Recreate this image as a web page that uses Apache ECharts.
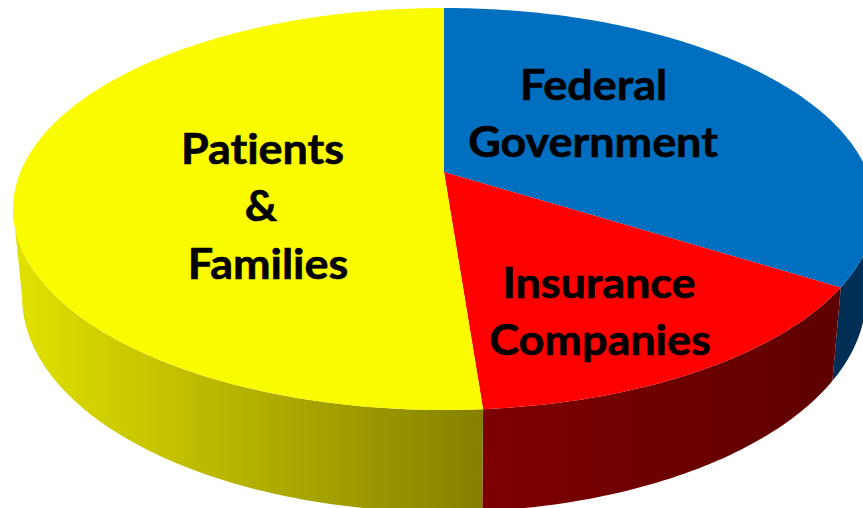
<!DOCTYPE html>
<html>
<head>
<meta charset="utf-8">
<style>
html,body{margin:0;padding:0;background:#fff}
#main{width:863px;height:508px}
#main text{font-variant-ligatures:none !important}
</style>
<script src="https://cdn.jsdelivr.net/npm/echarts@6/dist/echarts.min.js"></script>
</head>
<body>
<div id="main"></div>
<script>
// shares, clockwise from 12 o'clock
var categories=['Federal Government','Insurance Companies','Patients & Families'];
var shares=[34,14.8,51.2];
var topColors=['#006FBF','#FF0000','#FBFB00'];
var wallColors=[
	['#002E55','#002E55'],
	['#7E0000','#5E0000'],
	['#E2E200','#858000']
];

// perspective of the disc: k is the foreshortening, top = upper face, bottom = lower edge
var k=0.184;
var topFace={cx:444,cy:172,a:423.6,b:194.2};
var bottomFace={cx:444,cy:257.4,a:414.7,b:207.7};

function project(face,theta){
	var u=Math.sin(theta),v=Math.cos(theta),w=1+k*v;
	return [face.cx+face.a*u/w,face.cy-face.b*v/w];
}

function arc(face,from,to){
	var pts=[];
	var n=Math.max(2,Math.ceil(Math.abs(to-from)*60));
	for(var i=0;i<=n;i++){
		pts.push(project(face,from+(to-from)*i/n));
	}
	return pts;
}

// the wall only shows between the two points where the outline turns back
var wallFrom=Math.acos(-k);
var wallTo=2*Math.PI-wallFrom;

function renderSlice(params,api){
	var total=shares.reduce(function(s,d){return s+d;},0);
	var before=0;
	for(var i=0;i<params.dataIndex;i++){before+=shares[i];}
	var start=before/total*2*Math.PI;
	var end=start+api.value(0)/total*2*Math.PI;
	var children=[];

	var a=Math.max(start,wallFrom),b=Math.min(end,wallTo);
	if(b>a){
		var wall=arc(topFace,a,b).concat(arc(bottomFace,b,a));
		var xs=wall.map(function(p){return p[0];});
		var c=wallColors[params.dataIndex];
		children.push({
			type:'polygon',
			shape:{points:wall},
			style:{
				fill:new echarts.graphic.LinearGradient(Math.min.apply(null,xs),0,Math.max.apply(null,xs),0,[
					{offset:0,color:c[0]},{offset:1,color:c[1]}
				],true)
			}
		});
	}

	var face=[[topFace.cx,topFace.cy]].concat(arc(topFace,start,end));
	children.push({
		type:'polygon',
		shape:{points:face},
		style:{fill:topColors[params.dataIndex]}
	});
	return {type:'group',children:children};
}

// Lato is narrower than the original face, so it gets stretched a little
function label(text,x,y){
	return {
		type:'text',
		x:x,
		y:y,
		z:10,
		scaleX:1.095,
		style:{
			text:text,
			font:'bold 41px Lato',
			fill:'#000',
			stroke:'#000',
			lineWidth:0.6,
			align:'center',
			verticalAlign:'middle'
		}
	};
}

var chart=echarts.init(document.getElementById('main'),null,{renderer:'svg'});
chart.setOption({
	backgroundColor:'#ffffff',
	animation:false,
	series:[{
		type:'custom',
		coordinateSystem:'none',
		silent:true,
		z:1,
		renderItem:renderSlice,
		data:shares.map(function(d,i){return {name:categories[i],value:[d]};})
	}],
	graphic:[
		label('Federal',593.5,84),
		label('Government',593,141),
		label('Insurance',599,282),
		label('Companies',600,339),
		label('Patients',262.5,148),
		label('&',261,205),
		label('Families',268,263)
	]
});
</script>
</body>
</html>
